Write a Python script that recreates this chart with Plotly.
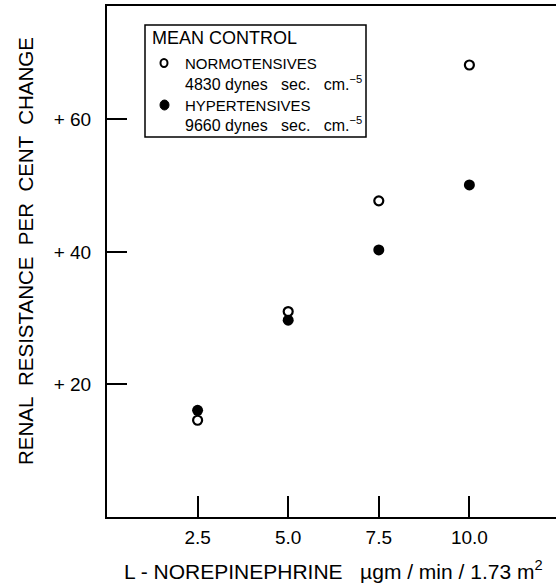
import plotly.graph_objects as go

# ---- data ----
doses = [2.5, 5.0, 7.5, 10.0]
normotensives = [14.6, 31.0, 47.7, 68.2]
hypertensives = [16.1, 29.7, 40.3, 50.1]
x_tick_vals = [2.5, 5.0, 7.5, 10.0]
x_tick_text = ["2.5", "5.0", "7.5", "10.0"]
y_tick_vals = [20, 40, 60]
y_tick_text = ["+ 20", "+ 40", "+ 60"]

W, H = 556, 583
L, R, T, B = 107, 0, 6, 66
FONT = "Liberation Sans, Arial, sans-serif"

def px(xp):
    return (xp - L) / (W - L - R)

def py(yp):
    return (H - B - yp) / (H - T - B)

fig = go.Figure()
fig.add_trace(go.Scatter(
    x=doses, y=normotensives, mode="markers", name="NORMOTENSIVES",
    marker=dict(symbol="circle-open", size=9, color="black", line=dict(width=2.2, color="black")),
))
fig.add_trace(go.Scatter(
    x=doses, y=hypertensives, mode="markers", name="HYPERTENSIVES",
    marker=dict(symbol="circle", size=11, color="black"),
))

shapes = [
    dict(type="rect", xref="paper", yref="paper",
         x0=px(145), x1=px(366), y0=py(137), y1=py(25),
         line=dict(color="black", width=1.5)),
    dict(type="circle", xref="paper", yref="paper",
         x0=px(160.5), x1=px(167.5), y0=py(67), y1=py(59),
         line=dict(color="black", width=2)),
    dict(type="circle", xref="paper", yref="paper",
         x0=px(160), x1=px(169), y0=py(110), y1=py(100),
         line=dict(color="black", width=1), fillcolor="black"),
]

ann = [
    dict(text="MEAN CONTROL", x=px(150), y=py(38), size=18),
    dict(text="NORMOTENSIVES", x=px(183), y=py(63), size=15),
    dict(text="4830 dynes   sec.   cm.<sup>−5</sup>", x=px(183), y=py(83), size=16),
    dict(text="HYPERTENSIVES", x=px(183), y=py(105), size=15),
    dict(text="9660 dynes   sec.   cm.<sup>−5</sup>", x=px(183), y=py(124), size=16),
]
annotations = [
    dict(text=a["text"], x=a["x"], y=a["y"], xref="paper", yref="paper",
         xanchor="left", yanchor="middle", showarrow=False,
         font=dict(family=FONT, size=a["size"], color="black"))
    for a in ann
]
annotations.append(dict(
    text="L - NOREPINEPHRINE   µgm / min / 1.73 m<sup>2</sup>",
    x=px(333), y=py(570), xref="paper", yref="paper",
    xanchor="center", yanchor="middle", showarrow=False,
    font=dict(family=FONT, size=21, color="black")))
annotations.append(dict(
    text="RENAL  RESISTANCE  PER  CENT  CHANGE",
    x=px(25), y=py(251), xref="paper", yref="paper", textangle=-90,
    xanchor="center", yanchor="middle", showarrow=False,
    font=dict(family=FONT, size=20.5, color="black")))

fig.update_layout(
    width=W, height=H,
    margin=dict(l=L, r=R, t=T, b=B, pad=0),
    paper_bgcolor="white", plot_bgcolor="white",
    showlegend=False,
    shapes=shapes, annotations=annotations,
    font=dict(family=FONT, color="black"),
    xaxis=dict(range=[0, 12.39], tickvals=x_tick_vals, ticktext=x_tick_text,
               ticks="inside", ticklen=21, tickwidth=1.5, tickcolor="black",
               showline=True, linecolor="black", linewidth=2, mirror=True,
               showgrid=False, zeroline=False,
               tickfont=dict(family=FONT, size=19, color="black"),
               ticklabelstandoff=2),
    yaxis=dict(range=[0, 77.1], tickvals=y_tick_vals, ticktext=y_tick_text,
               ticks="inside", ticklen=20, tickwidth=1.5, tickcolor="black",
               showline=True, linecolor="black", linewidth=2, mirror=False,
               showgrid=False, zeroline=False,
               tickfont=dict(family=FONT, size=19, color="black"),
               ticklabelstandoff=10),
)

fig.write_html("out.html",
               config={"displayModeBar": False},
               post_script="document.body.style.margin='0';document.body.style.overflow='hidden';")
